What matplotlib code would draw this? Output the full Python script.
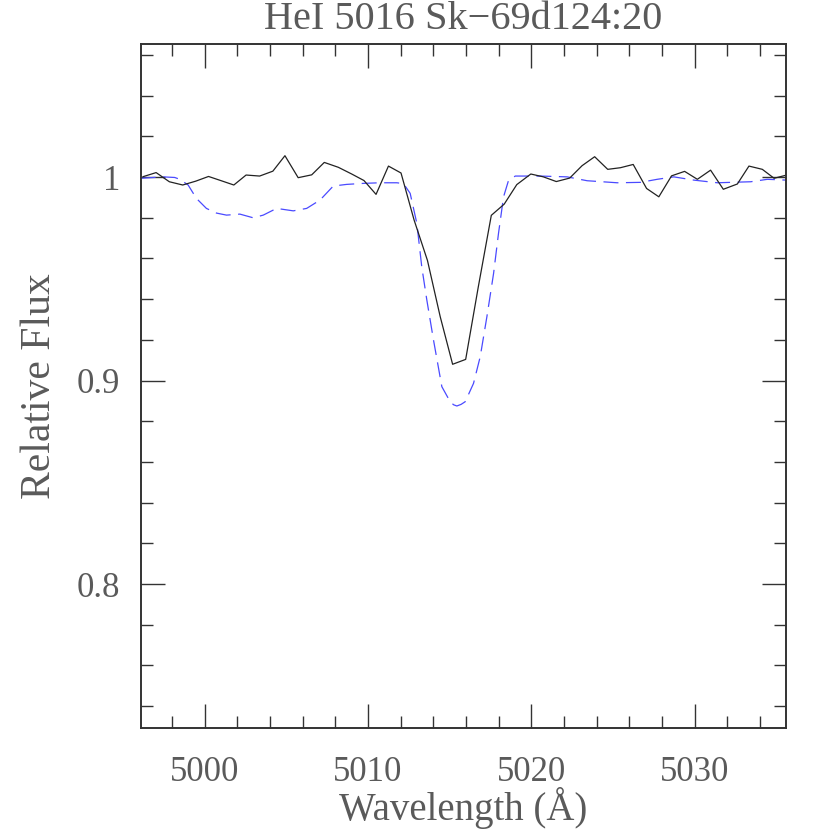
import numpy as np
import matplotlib
matplotlib.use("Agg")
import matplotlib.pyplot as plt
from matplotlib.ticker import MultipleLocator

# observed spectrum (solid line)
wave_obs = [4996.22, 4997.02, 4997.83, 4998.65, 4999.45, 5000.23, 5001.01, 5001.78,
            5002.53, 5003.36, 5004.17, 5004.91, 5005.72, 5006.55, 5007.32, 5008.18,
            5009.00, 5009.75, 5010.49, 5011.25, 5012.02, 5012.82, 5013.64, 5014.42,
            5015.18, 5015.98, 5016.75, 5017.55, 5018.34, 5019.11, 5019.97, 5020.74,
            5021.53, 5022.35, 5023.11, 5023.88, 5024.68, 5025.46, 5026.24, 5027.06,
            5027.81, 5028.59, 5029.39, 5030.17, 5030.98, 5031.76, 5032.62, 5033.33,
            5034.15, 5034.87, 5035.64]
flux_obs = [1.0002, 1.0022, 0.9977, 0.9961, 0.9980, 1.0003, 0.9982, 0.9961,
            1.0010, 1.0005, 1.0029, 1.0105, 0.9997, 1.0011, 1.0072, 1.0048,
            1.0015, 0.9983, 0.9915, 1.0054, 1.0020, 0.9789, 0.9590, 0.9314,
            0.9080, 0.9104, 0.9459, 0.9812, 0.9867, 0.9963, 1.0015, 1.0001,
            0.9978, 0.9995, 1.0056, 1.0100, 1.0038, 1.0046, 1.0062, 0.9944,
            0.9903, 1.0006, 1.0028, 0.9989, 1.0034, 0.9940, 0.9966, 1.0054,
            1.0038, 0.9994, 1.0010]

# model profile (dashed line)
wave_mod = [4996.07, 4997.44, 4998.16, 4998.47, 4998.98, 4999.49, 5000.10, 5000.72,
            5001.33, 5002.15, 5002.96, 5003.58, 5004.40, 5005.42, 5006.24, 5007.06,
            5007.87, 5008.69, 5009.71, 5010.74, 5011.76, 5012.17, 5012.58, 5012.99,
            5013.29, 5013.60, 5014.01, 5014.52, 5015.03, 5015.24, 5015.44, 5015.70,
            5015.95, 5016.46, 5016.87, 5017.28, 5017.69, 5017.99, 5018.30, 5018.61,
            5019.02, 5020.55, 5022.19, 5023.42, 5025.26, 5026.69, 5027.71, 5028.73,
            5029.96, 5031.39, 5033.44, 5034.46, 5035.64]
flux_mod = [0.9994, 1.0001, 0.9998, 0.9989, 0.9961, 0.9895, 0.9846, 0.9823,
            0.9813, 0.9818, 0.9800, 0.9813, 0.9846, 0.9834, 0.9846, 0.9887,
            0.9956, 0.9964, 0.9969, 0.9972, 0.9972, 0.9968, 0.9920, 0.9772,
            0.9559, 0.9396, 0.9199, 0.8970, 0.8896, 0.8881, 0.8875, 0.8883,
            0.8896, 0.8986, 0.9117, 0.9314, 0.9527, 0.9723, 0.9903, 0.9985,
            1.0005, 1.0005, 1.0001, 0.9982, 0.9972, 0.9974, 0.9989, 1.0001,
            0.9985, 0.9972, 0.9977, 0.9989, 0.9985]

txt_color = '#5a5a5a'
plt.rcParams['font.family'] = ['Liberation Serif', 'DejaVu Serif']

fig = plt.figure(figsize=(8.3, 8.3), dpi=100)
ax = fig.add_axes([0.170, 0.123, 0.777, 0.824])

ax.plot(wave_mod, flux_mod, color='#4a4aff', lw=0.9, linestyle=(0, (12, 6)))
ax.plot(wave_obs, flux_obs, color='#222222', lw=0.9)

ax.set_xlim(4996.1, 5035.6)
ax.set_ylim(0.7293, 1.0654)

ax.xaxis.set_major_locator(MultipleLocator(10))
ax.xaxis.set_minor_locator(MultipleLocator(2))
ax.yaxis.set_major_locator(MultipleLocator(0.1))
ax.yaxis.set_minor_locator(MultipleLocator(0.02))
ax.yaxis.set_major_formatter(plt.FuncFormatter(lambda v, p: ('%g' % round(v, 2))))

ax.tick_params(which='both', direction='in', top=True, right=True,
               colors='#333333', labelcolor=txt_color, labelsize=25, width=1.0)
ax.tick_params(which='major', length=17)
ax.tick_params(which='minor', length=8.5)
ax.tick_params(axis='x', which='major', pad=20)
ax.tick_params(axis='y', which='major', pad=15)
for s in ax.spines.values():
    s.set_linewidth(1.4)
    s.set_color('#333333')

ax.set_title('HeI 5016 Sk\u221269d124:20', fontsize=29, color=txt_color, pad=11)
ax.set_xlabel('Wavelength (\u00c5)', fontsize=28, color=txt_color, va='top')
ax.xaxis.set_label_coords(0.5, -0.086)
ax.set_ylabel('Relative Flux', fontsize=30, color=txt_color, labelpad=13)

fig.savefig('out.png', dpi=100)
